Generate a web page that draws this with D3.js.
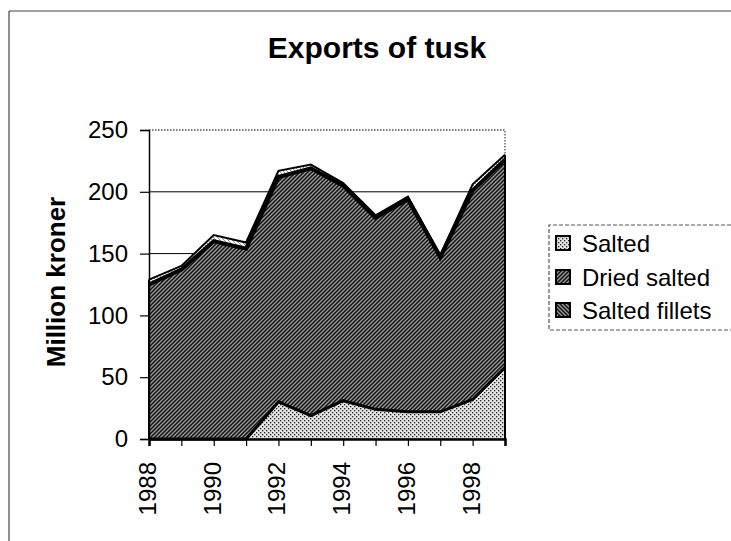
<!DOCTYPE html>
<html>
<head>
<meta charset="utf-8">
<script src="https://cdn.jsdelivr.net/npm/d3@7"></script>
<style>
  html, body { margin: 0; padding: 0; background: #fff; }
  svg { display: block; font-family: "Liberation Sans", Arial, sans-serif; }
</style>
</head>
<body>
<svg id="chart" width="731" height="541"></svg>
<script>
// ---- data ----
const years = [1988, 1989, 1990, 1991, 1992, 1993, 1994, 1995, 1996, 1997, 1998, 1999];
const salted = [0, 0, 0, 0, 30, 19, 31, 24, 22, 22, 32, 58];
const driedSalted = [125, 137, 160, 154, 182, 200, 174, 155, 172, 125, 169, 168];
const saltedFillets = [4, 3, 5, 5, 5, 3, 2, 2, 2, 2, 5, 4];
const seriesNames = ["Salted", "Dried salted", "Salted fillets"];
const yTicks = [0, 50, 100, 150, 200, 250];
const xLabelYears = [1988, 1990, 1992, 1994, 1996, 1998];
const title = "Exports of tusk";
const yTitle = "Million kroner";

const svg = d3.select("#chart");
const W = 731, H = 541;
const plot = { left: 149, right: 505, top: 130, bottom: 439 };

// patterns
const defs = svg.append("defs");
function pat(id, bg, build) {
  const p = defs.append("pattern").attr("id", id).attr("patternUnits", "userSpaceOnUse")
    .attr("width", 4).attr("height", 4);
  p.append("rect").attr("width", 4).attr("height", 4).attr("fill", bg);
  build(p);
}
pat("pLight", "#e4e4e4", p => {
  p.append("rect").attr("x", 0).attr("y", 0).attr("width", 1.3).attr("height", 1.3).attr("fill", "#222");
  p.append("rect").attr("x", 2).attr("y", 2).attr("width", 1.3).attr("height", 1.3).attr("fill", "#222");
});
pat("pDark", "#9a9a9a", p => {
  p.append("path").attr("d", "M0,4L4,0M-1,1L1,-1M3,5L5,3").attr("stroke", "#111").attr("stroke-width", 1.5);
});
pat("pFillet", "#ffffff", p => {
  p.append("path").attr("d", "M0,0L4,4M-1,3L1,5M3,-1L5,1").attr("stroke", "#444").attr("stroke-width", 0.6);
});
pat("pFilletSw", "#9a9a9a", p => {
  p.append("path").attr("d", "M0,0L4,4M-1,3L1,5M3,-1L5,1").attr("stroke", "#111").attr("stroke-width", 1.5);
});
const fills = ["url(#pLight)", "url(#pDark)", "url(#pFillet)"];
const swatchFills = ["url(#pLight)", "url(#pDark)", "url(#pFilletSw)"];

// outer chart border
svg.append("line").attr("x1", 9).attr("x2", W).attr("y1", 11).attr("y2", 11)
  .attr("stroke", "#444").attr("stroke-width", 1.2);
svg.append("line").attr("x1", 9).attr("x2", 9).attr("y1", 11).attr("y2", H)
  .attr("stroke", "#444").attr("stroke-width", 1.2);

// title
svg.append("text").attr("x", 377).attr("y", 58).attr("text-anchor", "middle")
  .attr("font-size", 30).attr("font-weight", "bold").attr("fill", "#000").text(title);

// scales
const x = d3.scaleLinear().domain([years[0], years[years.length - 1]]).range([plot.left, plot.right]);
const y = d3.scaleLinear().domain([0, 250]).range([plot.bottom, plot.top]);

// gridlines
svg.append("g").selectAll("line").data(yTicks.filter(d => d > 0 && d < 250)).join("line")
  .attr("x1", plot.left).attr("x2", plot.right)
  .attr("y1", d => y(d)).attr("y2", d => y(d))
  .attr("stroke", "#000").attr("stroke-width", 1);

// plot border (dotted top/right)
svg.append("path")
  .attr("d", `M${plot.left},${plot.top}H${plot.right}V${plot.bottom}`)
  .attr("fill", "none").attr("stroke", "#555").attr("stroke-width", 1.3).attr("stroke-dasharray", "1.5,1.5");

// stacked data
const rows = years.map((yr, i) => ({ year: yr, s0: salted[i], s1: driedSalted[i], s2: saltedFillets[i] }));
const stack = d3.stack().keys(["s0", "s1", "s2"]);
const layers = stack(rows);
const area = d3.area().x(d => x(d.data.year)).y0(d => y(d[0])).y1(d => y(d[1]));
const topLine = d3.line().x(d => x(d.data.year)).y(d => y(d[1]));
const strokeW = [3, 4, 2];

const gA = svg.append("g");
layers.forEach((L, i) => {
  gA.append("path").datum(L).attr("d", area).attr("fill", fills[i]).attr("stroke", "none");
});
layers.forEach((L, i) => {
  gA.append("path").datum(L).attr("d", topLine).attr("fill", "none")
    .attr("stroke", "#000").attr("stroke-width", strokeW[i]).attr("stroke-linejoin", "miter");
});
// side edges
gA.append("line").attr("x1", x(years[0])).attr("x2", x(years[0]))
  .attr("y1", y(0)).attr("y2", y(layers[2][0][1]))
  .attr("stroke", "#000").attr("stroke-width", 2);
gA.append("line").attr("x1", x(years[years.length - 1])).attr("x2", x(years[years.length - 1]))
  .attr("y1", y(0)).attr("y2", y(layers[2][years.length - 1][1]))
  .attr("stroke", "#000").attr("stroke-width", 2);

// y axis
const yAxis = d3.axisLeft(y).tickValues(yTicks).tickSize(9).tickPadding(12);
const gy = svg.append("g").attr("transform", `translate(${plot.left},0)`).call(yAxis);
gy.select(".domain").attr("stroke", "#000").attr("stroke-width", 1.5);
gy.selectAll(".tick line").attr("stroke", "#000").attr("stroke-width", 1.2);
gy.selectAll(".tick text").attr("font-size", 24).attr("fill", "#000")
  .attr("font-family", "'Liberation Sans', Arial, sans-serif");

// x axis
const xAxis = d3.axisBottom(x).tickValues(years).tickSize(7).tickFormat("");
const gx = svg.append("g").attr("transform", `translate(0,${plot.bottom})`).call(xAxis);
gx.select(".domain").attr("stroke", "#000").attr("stroke-width", 2.5);
gx.selectAll(".tick line").attr("stroke", "#000").attr("stroke-width", 1.2);

svg.append("g").selectAll("text").data(xLabelYears).join("text")
  .attr("transform", d => `translate(${x(d) + 7},${plot.bottom + 23}) rotate(-90)`)
  .attr("text-anchor", "end").attr("font-size", 24).attr("fill", "#000")
  .text(d => d);

// y title
svg.append("text").attr("transform", "translate(65,282) rotate(-90)")
  .attr("text-anchor", "middle").attr("font-size", 26).attr("font-weight", "bold").attr("fill", "#000")
  .text(yTitle);

// legend
const lg = svg.append("g");
lg.append("path").attr("d", "M731,225H549V330H731")
  .attr("fill", "none").attr("stroke", "#555").attr("stroke-width", 1.2).attr("stroke-dasharray", "4,2");
const rowY = [243, 277, 310];
seriesNames.forEach((name, i) => {
  lg.append("rect").attr("x", 556).attr("y", rowY[i] - 7).attr("width", 14).attr("height", 14)
    .attr("fill", swatchFills[i]).attr("stroke", "#000").attr("stroke-width", 2);
  lg.append("text").attr("x", 582).attr("y", rowY[i] + 8.5).attr("font-size", 24).attr("fill", "#000").text(name);
});
</script>
</body>
</html>
